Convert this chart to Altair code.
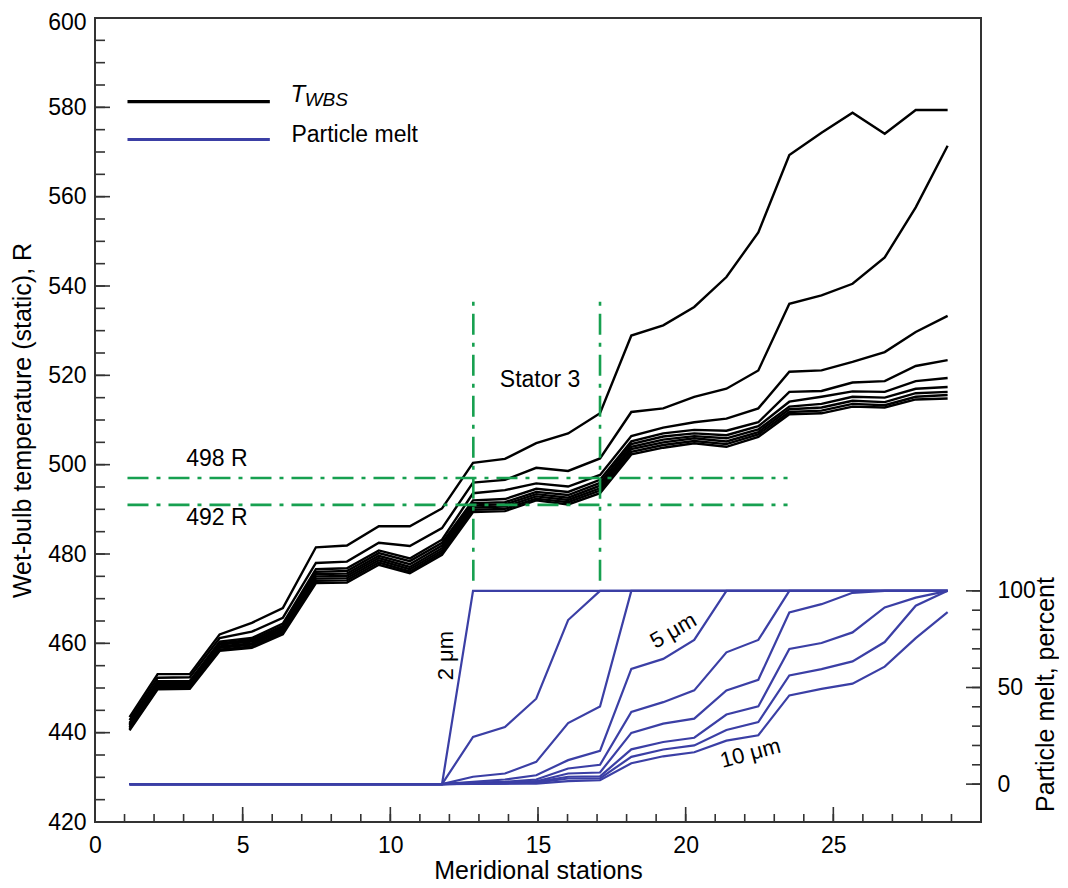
import altair as alt
import pandas as pd

# ---------------- data ----------------
stations = [1.17, 2.12, 3.21, 4.22, 5.31, 6.36, 7.48, 8.53, 9.61, 10.66, 11.75, 12.80, 13.88,
            14.94, 16.02, 17.10, 18.16, 19.24, 20.29, 21.38, 22.46, 23.51, 24.60, 25.65, 26.74,
            27.79, 28.87]

# wet-bulb static temperature curves (R), top to bottom
t_A = [443.5, 453.1, 453.1, 462.0, 464.6, 467.9, 481.5, 481.9, 486.2, 486.2, 490.2, 500.4, 501.3,
       504.8, 507.0, 511.5, 528.9, 531.2, 535.3, 542.0, 552.0, 569.3, 574.3, 578.8, 574.1, 579.4, 579.4]
t_B = [442.8, 452.3, 452.4, 461.2, 462.6, 465.7, 478.0, 478.3, 482.5, 481.8, 485.8, 496.0, 496.6,
       499.3, 498.6, 501.4, 511.8, 512.6, 515.2, 517.0, 521.1, 536.0, 537.9, 540.5, 546.4, 557.6, 571.4]
t_C = [442.2, 451.5, 451.6, 460.4, 461.2, 464.4, 476.6, 476.8, 480.8, 479.0, 483.2, 493.6, 494.3,
       495.8, 495.1, 497.7, 506.4, 508.3, 509.5, 510.3, 512.6, 520.8, 521.1, 523.0, 525.2, 529.7, 533.3]
t_D = [441.9, 451.2, 451.3, 460.0, 460.8, 463.9, 476.0, 476.2, 480.2, 478.4, 482.5, 492.0, 492.3,
       494.6, 493.9, 496.6, 505.2, 507.0, 507.8, 507.6, 509.5, 516.3, 516.5, 518.4, 518.7, 522.1, 523.4]
t_E = [441.6, 450.9, 451.0, 459.7, 460.4, 463.5, 475.5, 475.6, 479.6, 477.7, 481.9, 491.4, 491.6,
       493.9, 493.2, 495.9, 504.6, 506.3, 507.0, 506.6, 508.6, 514.1, 515.2, 516.4, 516.3, 518.7, 519.4]
t_F = [441.3, 450.6, 450.7, 459.3, 460.0, 463.1, 475.0, 475.1, 479.1, 477.1, 481.3, 490.9, 491.1,
       493.4, 492.6, 495.3, 504.0, 505.6, 506.4, 505.9, 507.9, 513.0, 513.6, 515.2, 515.0, 517.0, 517.4]
t_G = [441.1, 450.3, 450.4, 459.0, 459.7, 462.8, 474.5, 474.6, 478.6, 476.6, 480.8, 490.4, 490.6,
       492.9, 492.1, 494.7, 503.5, 505.0, 505.9, 505.2, 507.3, 512.4, 512.8, 514.3, 514.0, 516.0, 516.3]
t_H = [440.8, 450.0, 450.1, 458.6, 459.3, 462.4, 474.0, 474.1, 478.1, 476.1, 480.3, 489.9, 490.1,
       492.4, 491.6, 494.2, 502.9, 504.4, 505.3, 504.6, 506.8, 511.8, 512.1, 513.6, 513.3, 515.2, 515.6]
t_I = [440.5, 449.7, 449.8, 458.3, 459.0, 462.0, 473.5, 473.6, 477.6, 475.7, 479.8, 489.4, 489.6,
       492.0, 491.1, 493.6, 502.3, 503.8, 504.8, 504.0, 506.2, 511.3, 511.5, 513.0, 512.8, 514.6, 514.8]
temp_series = {"A": t_A, "B": t_B, "C": t_C, "D": t_D, "E": t_E, "F": t_F, "G": t_G, "H": t_H, "I": t_I}

# particle melt (percent) for particle sizes 2..10 micrometres
zeros11 = [0.0] * 11
m_2 = zeros11 + [100.0] * 16
m_3 = zeros11 + [24.4, 29.5, 44.2, 84.9, 100, 100, 100, 100, 100, 100, 100, 100, 100, 100, 100, 100]
m_4 = zeros11 + [3.8, 5.5, 11.5, 31.6, 40.2, 100, 100, 100, 100, 100, 100, 100, 100, 100, 100, 100]
m_5 = zeros11 + [1.2, 2.4, 4.6, 12.4, 17.2, 59.6, 64.8, 74.6, 100, 100, 100, 100, 100, 100, 100, 100]
m_6 = zeros11 + [0.8, 1.2, 2.4, 8.1, 10.0, 37.3, 42.4, 48.5, 68.2, 74.6, 100, 100, 100, 100, 100, 100]
m_7 = zeros11 + [0.5, 0.8, 1.5, 5.5, 6.0, 26.5, 31.3, 33.9, 48.5, 54.0, 88.8, 93.1, 99.0, 100, 100, 100]
m_8 = zeros11 + [0.3, 0.5, 1.2, 3.8, 4.0, 18.0, 21.8, 24.0, 36.0, 40.2, 69.9, 73.0, 78.5, 91.4, 96.5, 100]
m_9 = zeros11 + [0.2, 0.3, 0.7, 2.9, 3.0, 14.1, 17.9, 20.0, 28.0, 32.1, 56.2, 59.5, 63.5, 73.5, 92.3, 100]
m_10 = zeros11 + [0.1, 0.2, 0.3, 1.5, 2.0, 10.8, 14.4, 16.5, 22.5, 25.3, 45.9, 49.3, 52.0, 60.8, 75.5, 89.0]
melt_series = {"2": m_2, "3": m_3, "4": m_4, "5": m_5, "6": m_6, "7": m_7, "8": m_8, "9": m_9, "10": m_10}

# reference lines
ref_temps = [497.0, 491.0]
ref_x_range = [1.1, 23.45]
stator_x = [12.81, 17.10]
stator_y_range = [474.0, 537.5]

# axis ticks
x_labels = [0, 5, 10, 15, 20, 25]
y_labels = [420, 440, 460, 480, 500, 520, 540, 560, 580, 600]
melt_labels = [0, 50, 100]

# ---------------- frames ----------------
temp_df = pd.DataFrame([{"station": x, "temp": v, "series": k}
                        for k, vals in temp_series.items() for x, v in zip(stations, vals)])
melt_df = pd.DataFrame([{"station": x, "pct": v, "size": k}
                        for k, vals in melt_series.items() for x, v in zip(stations, vals)])
ref_df = pd.DataFrame({"y": ref_temps, "x": [ref_x_range[0]] * 2, "x2": [ref_x_range[1]] * 2})
stat_df = pd.DataFrame({"x": stator_x, "y": [stator_y_range[0]] * 2, "y2": [stator_y_range[1]] * 2})

W, H = 886, 804
FONT = "Liberation Sans"
BLUE = "#3b3fa5"
GREEN = "#17a050"
FRAME = "#333333"

xs = alt.Scale(domain=[0, 30], nice=False, zero=False)
yl = alt.Scale(domain=[420, 600], nice=False, zero=False)
yr = alt.Scale(domain=[-19.6, 396.4], nice=False, zero=False)

XAX = alt.Axis(values=x_labels, title="Meridional stations", orient="bottom",
               labelPadding=12, titlePadding=1, labelFlush=False)


def xq(f="x"):
    return alt.X(f"{f}:Q", scale=xs, axis=XAX, title="Meridional stations")


def yL(f="y"):
    return alt.Y(f"{f}:Q", scale=yl, axis=None)


def yR(f="y"):
    return alt.Y(f"{f}:Q", scale=yr, axis=None)


black = alt.Chart(temp_df).mark_line(color="black", strokeWidth=2.4).encode(
    x=xq("station"),
    y=alt.Y("temp:Q", scale=yl,
            axis=alt.Axis(values=y_labels, title="Wet-bulb temperature (static), R", orient="left",
                          labelPadding=9, titlePadding=12, labelFlush=False,
                          labelOffset={"condition": {"test": "datum.value >= 600", "value": 4},
                                       "value": 0})),
    detail="series:N",
)

green_h = alt.Chart(ref_df).mark_rule(color=GREEN, strokeWidth=2.6, strokeDash=[21, 8, 4, 8]).encode(
    x=xq(), x2="x2:Q", y=yL())
green_v = alt.Chart(stat_df).mark_rule(color=GREEN, strokeWidth=2.6, strokeDash=[21, 8, 4, 8]).encode(
    x=xq(), y=yL(), y2="y2:Q")

ann_df = pd.DataFrame({"x": [4.13, 4.13, 15.07], "y": [501.3, 487.95, 519.0],
                       "label": ["498 R", "492 R", "Stator 3"]})
ann = alt.Chart(ann_df).mark_text(font=FONT, fontSize=23, color="black", align="center",
                                  baseline="middle").encode(x=xq(), y=yL(), text="label:N")

# legend
leg_df = pd.DataFrame({"x": [1.1, 1.1], "x2": [5.92, 5.92], "y": [581.3, 572.8], "c": ["black", BLUE]})
leg_lines = alt.Chart(leg_df).mark_rule(strokeWidth=3.2).encode(
    x=xq(), x2="x2:Q", y=yL(), color=alt.Color("c:N", scale=None))
leg_T = alt.Chart(pd.DataFrame({"x": [6.62], "y": [581.25], "t": ["T"]})).mark_text(
    font=FONT, fontSize=24, fontStyle="italic", align="left", baseline="alphabetic", color="black").encode(
    x=xq(), y=yL(), text="t:N")
leg_sub = alt.Chart(pd.DataFrame({"x": [7.10], "y": [580.3], "t": ["WBS"]})).mark_text(
    font=FONT, fontSize=19, fontStyle="italic", align="left", baseline="alphabetic", color="black").encode(
    x=xq(), y=yL(), text="t:N")
leg_pm = alt.Chart(pd.DataFrame({"x": [6.65], "y": [572.25], "t": ["Particle melt"]})).mark_text(
    font=FONT, fontSize=23, align="left", baseline="alphabetic", color="black").encode(
    x=xq(), y=yL(), text="t:N")

# inward tick marks
lt_minor = alt.Chart(pd.DataFrame({"v": list(range(420, 601, 5))})).mark_rule(
    color=FRAME, strokeWidth=1.6).encode(y=yL("v"), x=alt.value(0), x2=alt.value(10))
lt_major = alt.Chart(pd.DataFrame({"v": y_labels})).mark_rule(
    color=FRAME, strokeWidth=1.6).encode(y=yL("v"), x=alt.value(0), x2=alt.value(15))
bt_minor = alt.Chart(pd.DataFrame({"v": list(range(0, 31))})).mark_rule(
    color=FRAME, strokeWidth=1.6).encode(x=xq("v"), y=alt.value(H), y2=alt.value(H - 8))
bt_major = alt.Chart(pd.DataFrame({"v": x_labels})).mark_rule(
    color=FRAME, strokeWidth=1.6).encode(x=xq("v"), y=alt.value(H), y2=alt.value(H - 15))

blue = alt.Chart(melt_df).mark_line(color=BLUE, strokeWidth=2.2).encode(
    x=xq("station"),
    y=alt.Y("pct:Q", scale=yr,
            axis=alt.Axis(values=melt_labels, orient="right", title="Particle melt, percent",
                          labelPadding=16, titlePadding=23, titleAngle=270, titleY=676,
                          labelAlign="left", labelFlush=False)),
    detail="size:N",
)
lab2 = alt.Chart(pd.DataFrame({"x": [11.88], "y": [66.5], "t": ["2 \u03bcm"]})).mark_text(
    font=FONT, fontSize=22, angle=270, align="center", baseline="middle", color="black").encode(
    x=xq(), y=yR(), text="t:N")
lab5 = alt.Chart(pd.DataFrame({"x": [19.58], "y": [79.4], "t": ["5 \u03bcm"]})).mark_text(
    font=FONT, fontSize=22, angle=330, align="center", baseline="middle", color="black").encode(
    x=xq(), y=yR(), text="t:N")
lab10 = alt.Chart(pd.DataFrame({"x": [22.19], "y": [16.0], "t": ["10 \u03bcm"]})).mark_text(
    font=FONT, fontSize=22, angle=345, align="center", baseline="middle", color="black").encode(
    x=xq(), y=yR(), text="t:N")
rt_minor = alt.Chart(pd.DataFrame({"v": list(range(0, 101, 10))})).mark_rule(
    color=FRAME, strokeWidth=1.6).encode(y=yR("v"), x=alt.value(W - 9), x2=alt.value(W))
rt_major = alt.Chart(pd.DataFrame({"v": melt_labels})).mark_rule(
    color=FRAME, strokeWidth=1.6).encode(y=yR("v"), x=alt.value(W - 15), x2=alt.value(W))

chart = alt.layer(
    black, blue, green_h, green_v, ann, leg_lines, leg_T, leg_sub, leg_pm,
    lt_minor, lt_major, bt_minor, bt_major, lab2, lab5, lab10, rt_minor, rt_major,
).resolve_scale(y="independent").properties(
    width=W, height=H,
    autosize=alt.AutoSizeParams(type="none"),
    padding={"left": 87, "top": 10, "right": 78, "bottom": 62},
).configure_view(stroke=FRAME, strokeWidth=2).configure_axis(
    labelFont=FONT, titleFont=FONT, labelFontSize=23, titleFontSize=25,
    labelColor="black", titleColor="black", titleFontWeight="normal",
    grid=False, domain=False, ticks=False,
)

chart.save("out.html", embed_options={"renderer": "svg", "actions": False})
